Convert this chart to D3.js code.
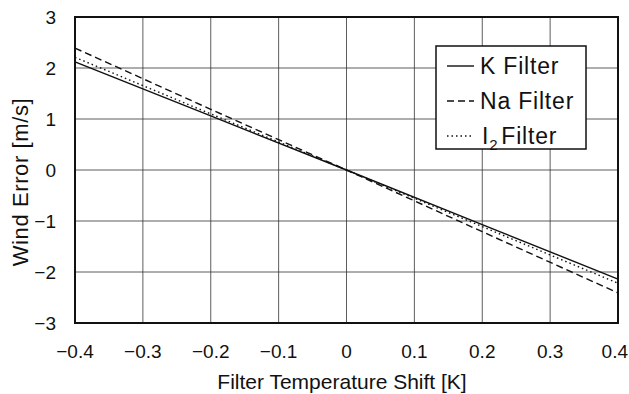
<!DOCTYPE html>
<html>
<head>
<meta charset="utf-8">
<script src="https://cdn.jsdelivr.net/npm/d3@7"></script>
<style>
  body { margin: 0; background: #fff; }
  text { font-family: "Liberation Sans", Arial, sans-serif; fill: #111; }
</style>
</head>
<body>
<div id="chart"></div>
<script>
// data
var shifts = [-0.4, -0.2, 0, 0.2, 0.4];
var kFilter = [2.12, 1.06, 0, -1.07, -2.14];
var naFilter = [2.39, 1.19, 0, -1.21, -2.41];
var i2Filter = [2.21, 1.10, 0, -1.11, -2.22];
var xTicks = [-0.4, -0.3, -0.2, -0.1, 0, 0.1, 0.2, 0.3, 0.4];
var yTicks = [-3, -2, -1, 0, 1, 2, 3];

var width = 629, height = 394;
var margin = {left: 75, right: 11, top: 17, bottom: 71};

var svg = d3.select("#chart").append("svg")
    .attr("width", width)
    .attr("height", height);

var x = d3.scaleLinear().domain([-0.4, 0.4]).range([margin.left, width - margin.right]);
var y = d3.scaleLinear().domain([-3, 3]).range([height - margin.bottom, margin.top]);

var fmt = function(d) { return d3.format(".1f")(d).replace("-", "\u2212"); };

// grid
svg.append("g").selectAll("line").data(xTicks).enter().append("line")
    .attr("x1", x).attr("x2", x)
    .attr("y1", y(3)).attr("y2", y(-3))
    .attr("stroke", "#333").attr("stroke-width", 0.8);
svg.append("g").selectAll("line").data(yTicks).enter().append("line")
    .attr("x1", x(-0.4)).attr("x2", x(0.4))
    .attr("y1", y).attr("y2", y)
    .attr("stroke", "#333").attr("stroke-width", 0.8);

// series
var series = [
  {name: "K Filter", vals: kFilter, dash: null},
  {name: "Na Filter", vals: naFilter, dash: "7,4"},
  {name: "I2 Filter", vals: i2Filter, dash: "1.5,3"}
];
var line = d3.line()
    .x(function(d) { return x(d[0]); })
    .y(function(d) { return y(d[1]); });

svg.append("g").selectAll("path").data(series).enter().append("path")
    .attr("d", function(s) { return line(d3.zip(shifts, s.vals)); })
    .attr("fill", "none")
    .attr("stroke", "#111")
    .attr("stroke-width", 1.4)
    .attr("stroke-dasharray", function(s) { return s.dash; });

// frame
svg.append("rect")
    .attr("x", x(-0.4)).attr("y", y(3))
    .attr("width", x(0.4) - x(-0.4)).attr("height", y(-3) - y(3))
    .attr("fill", "none").attr("stroke", "#111").attr("stroke-width", 2);

// tick labels (last one kept inside the page edge)
svg.append("g").selectAll("text").data(xTicks).enter().append("text")
    .attr("x", function(d, i) { return i === xTicks.length - 1 ? width - 1 : x(d); })
    .attr("y", 358)
    .attr("text-anchor", function(d, i) { return i === xTicks.length - 1 ? "end" : "middle"; })
    .attr("font-size", 19)
    .text(function(d) { return d === 0 ? "0" : fmt(d); });
svg.append("g").selectAll("text").data(yTicks).enter().append("text")
    .attr("x", 56).attr("y", y)
    .attr("dy", "0.36em")
    .attr("text-anchor", "end")
    .attr("font-size", 19)
    .text(function(d) { return String(d).replace("-", "\u2212"); });

// axis titles
svg.append("text")
    .attr("x", 342).attr("y", 389)
    .attr("text-anchor", "middle")
    .attr("font-size", 21)
    .text("Filter Temperature Shift [K]");
svg.append("text")
    .attr("transform", "translate(28,182)rotate(-90)")
    .attr("text-anchor", "middle")
    .attr("font-size", 22)
    .attr("letter-spacing", 0.6)
    .text("Wind Error [m/s]");

// legend
var lg = svg.append("g").attr("transform", "translate(436,46)");
lg.append("rect")
    .attr("width", 150).attr("height", 103)
    .attr("fill", "#fff").attr("stroke", "#111").attr("stroke-width", 1.5);
var item = lg.selectAll("g").data(series).enter().append("g")
    .attr("transform", function(d, i) { return "translate(0," + (20 + i * 35) + ")"; });
item.append("line")
    .attr("x1", 11).attr("x2", 38)
    .attr("stroke", "#111").attr("stroke-width", 1.4)
    .attr("stroke-dasharray", function(s) { return s.dash; });
var t = item.append("text")
    .attr("x", 44).attr("dy", "0.36em")
    .attr("font-size", 23)
    .attr("letter-spacing", 0.8);
t.each(function(s) {
  var el = d3.select(this);
  if (s.name === "I2 Filter") {
    el.append("tspan").attr("dx", 2).text("I");
    el.append("tspan").attr("font-size", 15).attr("dy", 6).text("2");
    el.append("tspan").attr("dy", -6).attr("dx", 3).text("Filter");
  } else {
    el.text(s.name);
  }
});
</script>
</body>
</html>
